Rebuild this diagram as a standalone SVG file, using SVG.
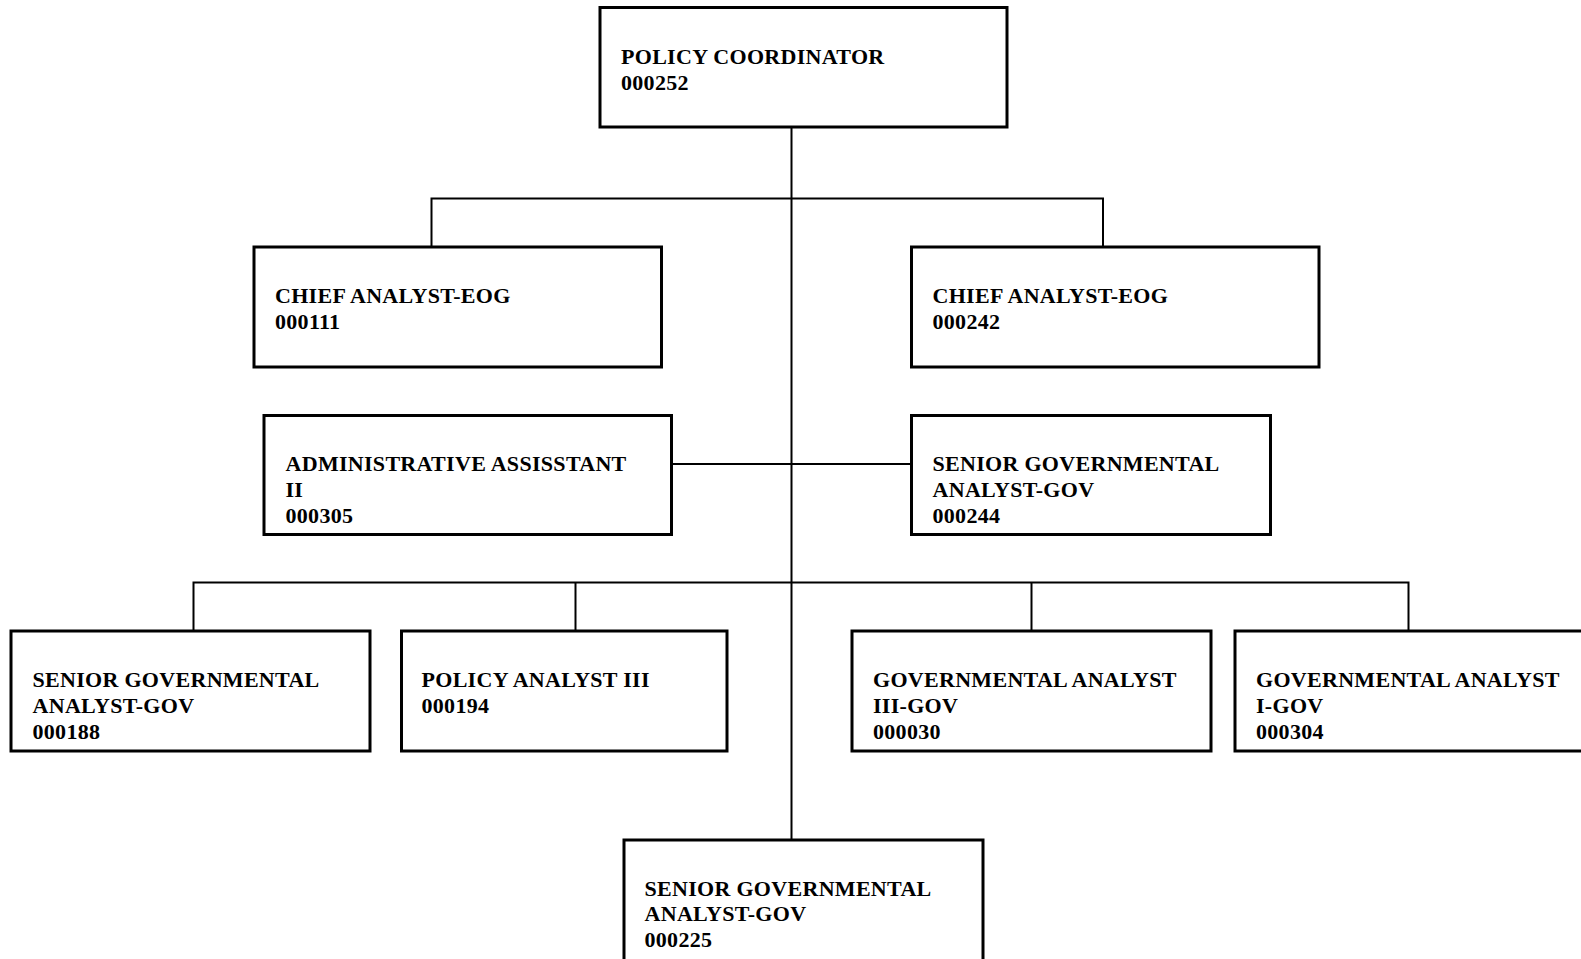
<svg xmlns="http://www.w3.org/2000/svg" width="1581" height="959" viewBox="0 0 1581 959">
  <style>
    .box { fill: #ffffff; stroke: #000000; stroke-width: 3; }
    .wire { fill: none; stroke: #000000; stroke-width: 2; }
    .lbl { font-family: "Liberation Serif", "Times New Roman", serif; font-weight: bold; font-size: 22px; letter-spacing: 0.3px; fill: #000000; }
  </style>
  <rect x="0" y="0" width="1581" height="959" fill="#ffffff"/>

  <!-- reporting lines -->
  <g id="connectors">
    <line class="wire" x1="791.5" y1="127" x2="791.5" y2="840"/>
    <polyline class="wire" points="431.5,247 431.5,198.5 1103,198.5 1103,247"/>
    <line class="wire" x1="671.5" y1="464" x2="911.5" y2="464"/>
    <polyline class="wire" points="193.5,631 193.5,582.5 1408.5,582.5 1408.5,631"/>
    <line class="wire" x1="575.5" y1="582.5" x2="575.5" y2="631"/>
    <line class="wire" x1="1031.5" y1="582.5" x2="1031.5" y2="631"/>
  </g>

  <g id="node-000252">
    <rect class="box" x="600" y="7.5" width="407" height="119.5"/>
    <text class="lbl" x="621" y="64">POLICY COORDINATOR</text>
    <text class="lbl" x="621" y="90">000252</text>
  </g>

  <g id="node-000111">
    <rect class="box" x="254" y="247" width="407.5" height="120"/>
    <text class="lbl" x="275" y="302.5">CHIEF ANALYST-EOG</text>
    <text class="lbl" x="275" y="328.5">000111</text>
  </g>

  <g id="node-000242">
    <rect class="box" x="911.5" y="247" width="407.5" height="120"/>
    <text class="lbl" x="932.5" y="302.5">CHIEF ANALYST-EOG</text>
    <text class="lbl" x="932.5" y="328.5">000242</text>
  </g>

  <g id="node-000305">
    <rect class="box" x="264" y="415.5" width="407.5" height="119"/>
    <text class="lbl" x="285.5" y="471">ADMINISTRATIVE ASSISSTANT</text>
    <text class="lbl" x="285.5" y="496.5">II</text>
    <text class="lbl" x="285.5" y="522.5">000305</text>
  </g>

  <g id="node-000244">
    <rect class="box" x="911.5" y="415.5" width="359" height="119"/>
    <text class="lbl" x="932.5" y="471">SENIOR GOVERNMENTAL</text>
    <text class="lbl" x="932.5" y="496.5">ANALYST-GOV</text>
    <text class="lbl" x="932.5" y="522.5">000244</text>
  </g>

  <g id="node-000188">
    <rect class="box" x="11" y="631" width="359" height="120"/>
    <text class="lbl" x="32.5" y="687">SENIOR GOVERNMENTAL</text>
    <text class="lbl" x="32.5" y="712.5">ANALYST-GOV</text>
    <text class="lbl" x="32.5" y="738.5">000188</text>
  </g>

  <g id="node-000194">
    <rect class="box" x="401.5" y="631" width="325.5" height="120"/>
    <text class="lbl" x="421.5" y="687">POLICY ANALYST III</text>
    <text class="lbl" x="421.5" y="712.5">000194</text>
  </g>

  <g id="node-000030">
    <rect class="box" x="852" y="631" width="359" height="120"/>
    <text class="lbl" x="873" y="687">GOVERNMENTAL ANALYST</text>
    <text class="lbl" x="873" y="712.5">III-GOV</text>
    <text class="lbl" x="873" y="738.5">000030</text>
  </g>

  <g id="node-000304">
    <rect class="box" x="1235" y="631" width="360" height="120"/>
    <text class="lbl" x="1256" y="687">GOVERNMENTAL ANALYST</text>
    <text class="lbl" x="1256" y="712.5">I-GOV</text>
    <text class="lbl" x="1256" y="738.5">000304</text>
  </g>

  <g id="node-000225">
    <rect class="box" x="624" y="840" width="359" height="130"/>
    <text class="lbl" x="644.5" y="895.5">SENIOR GOVERNMENTAL</text>
    <text class="lbl" x="644.5" y="921">ANALYST-GOV</text>
    <text class="lbl" x="644.5" y="947">000225</text>
  </g>
</svg>
